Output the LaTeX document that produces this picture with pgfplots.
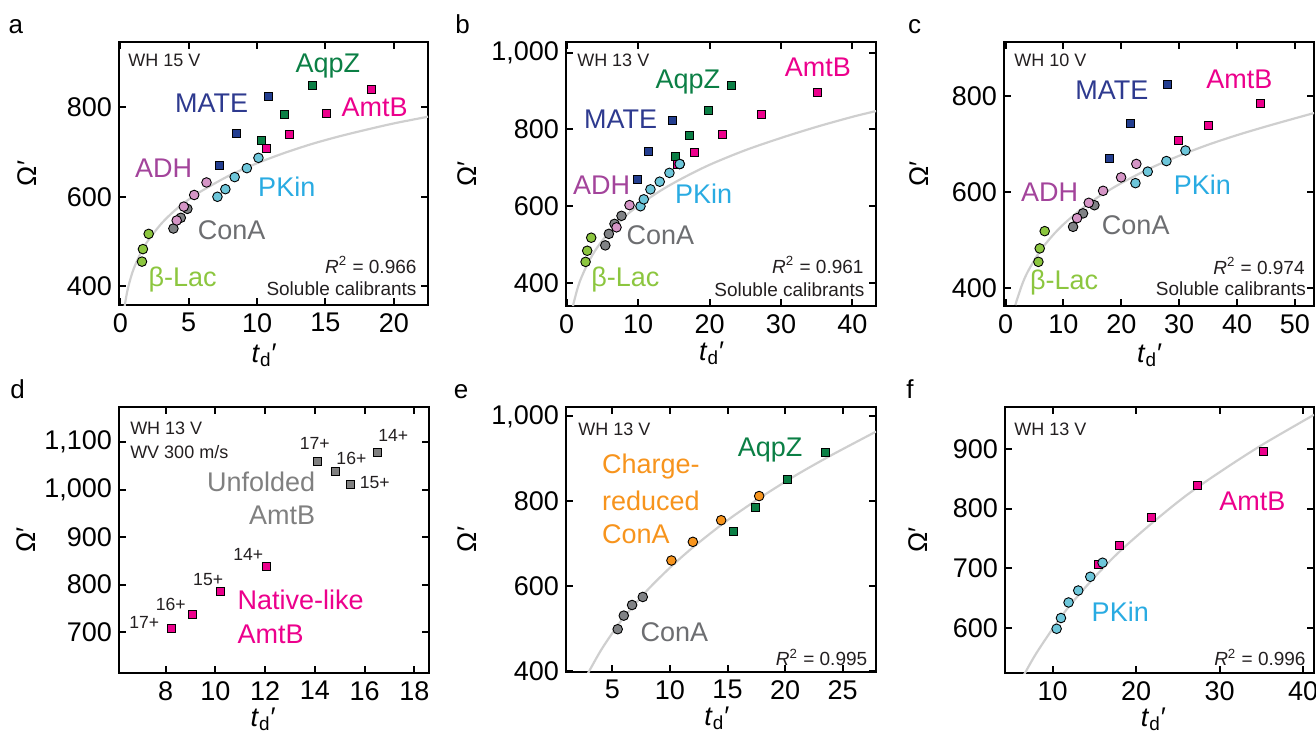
\documentclass[border=0pt]{standalone}
\usepackage{fontspec}
\setmainfont{Liberation Sans}
\usepackage{pgfplots}
\pgfplotsset{compat=1.18}

\definecolor{cLac}{HTML}{8CC63F}
\definecolor{cConA}{HTML}{808285}
\definecolor{cConAT}{HTML}{6D6E71}
\definecolor{cADH}{HTML}{D595C6}
\definecolor{cADHT}{HTML}{A3449B}
\definecolor{cPKin}{HTML}{6DC6DA}
\definecolor{cPKinT}{HTML}{29ABE2}
\definecolor{cMATE}{HTML}{233E90}
\definecolor{cMATET}{HTML}{2E3A8F}
\definecolor{cAqpZ}{HTML}{0B7F45}
\definecolor{cAmtB}{HTML}{EC008C}
\definecolor{cOrange}{HTML}{F7941D}
\definecolor{cCurve}{HTML}{CFCFCF}
\definecolor{cText}{HTML}{231F20}
\definecolor{cUnf}{HTML}{808080}

\newcommand{\tickfont}{\fontsize{13.5}{16}\selectfont}
\newcommand{\lblfont}{\fontsize{13.5}{16}\selectfont}
\newcommand{\whfont}{\fontsize{9}{12}\selectfont}
\newcommand{\rfont}{\fontsize{9.5}{11}\selectfont}
\newcommand{\chfont}{\fontsize{8.8}{10}\selectfont}
\newcommand{\letfont}{\fontsize{13}{15}\selectfont}

\pgfplotsset{
  panel/.style={
    scale only axis, anchor=south west,
    axis line style={line width=1.3pt},
    every tick/.style={black, line width=1pt},
    major tick length=3.5pt,
    tick align=inside,
    tick label style={font=\tickfont},
    xticklabel style={yshift=-2pt, inner sep=2pt},
    /pgf/number format/1000 sep={,},
    /pgf/number format/assume math mode=true,
    label style={font=\lblfont},
    xlabel={\textit{t}\textsubscript{d}′},
    ylabel={Ω′},
    xlabel style={anchor=center, inner sep=0pt},
    ylabel style={anchor=center, inner sep=0pt},
  },
  fit/.style={smooth, no marks, line width=1.1pt, color=cCurve},
  cm/.style={only marks, mark=*, mark size=2.4pt, mark options={draw=black, line width=0.45pt, fill=#1}},
  sm/.style={only marks, mark=square*, mark size=2.0pt, mark options={draw=black, line width=0.45pt, fill=#1}},
}

\begin{document}
\begin{tikzpicture}
\useasboundingbox (0,0) rectangle (658pt,-367.5pt);

\node[anchor=base west, font=\letfont, inner sep=0] at (4.15pt,-16.75pt) {a};
\node[anchor=base west, font=\letfont, inner sep=0] at (227.5pt,-16.65pt) {b};
\node[anchor=base west, font=\letfont, inner sep=0] at (453.8pt,-16.65pt) {c};
\node[anchor=base west, font=\letfont, inner sep=0] at (5pt,-199.15pt) {d};
\node[anchor=base west, font=\letfont, inner sep=0] at (226.7pt,-199.15pt) {e};
\node[anchor=base west, font=\letfont, inner sep=0] at (453pt,-199.15pt) {f};

%% ---------------- panel a
\begin{axis}[panel, at={(59.5pt,-152.5pt)}, width=154.5pt, height=131.5pt,
  xmin=-0.1, xmax=22.5, ymin=358, ymax=946,
  xtick={0,5,10,15,20}, ytick={400,600,800},
  ylabel style={at={(axis description cs:-0.298,0.5)}},
  xlabel style={at={(axis description cs:0.47,-0.19)}}]
\addplot[fit] coordinates {(0.31,355) (0.5,388) (0.75,418) (1,441) (1.5,475) (2,501) (3,540) (4,570) (5,594) (6,614) (8,648) (10,675) (12,698) (14,718) (16,735) (18,750) (20,764) (22.5,779)};
\addplot[cm=cLac] coordinates {(1.58,455) (1.65,483) (2.07,517)};
\addplot[cm=cConA] coordinates {(3.88,529) (4.42,553) (4.9,573)};
\addplot[cm=cADH] coordinates {(4.12,547) (4.64,578) (5.4,604) (6.3,632)};
\addplot[cm=cPKin] coordinates {(7.1,600) (7.68,617) (8.36,644) (9.25,664) (10.1,687)};
\addplot[sm=cMATE] coordinates {(7.26,670) (8.49,742) (10.83,824)};
\addplot[sm=cAqpZ] coordinates {(10.34,727) (12.02,784) (14.05,850)};
\addplot[sm=cAmtB] coordinates {(10.68,707) (12.38,739) (15.07,786) (18.38,839)};
\node[font=\lblfont, text=cAqpZ] at (axis cs:15.17,893) {AqpZ};
\node[font=\lblfont, text=cMATET] at (axis cs:6.68,810) {MATE};
\node[font=\lblfont, text=cAmtB] at (axis cs:18.6,801) {AmtB};
\node[font=\lblfont, text=cADHT] at (axis cs:3.17,664) {ADH};
\node[font=\lblfont, text=cPKinT] at (axis cs:12.17,622) {PKin};
\node[font=\lblfont, text=cConAT] at (axis cs:8.14,526) {ConA};
\node[font=\lblfont, text=cLac] at (axis cs:4.56,414) {β-Lac};
\node[anchor=north west, font=\whfont, inner sep=0, text=cText] at (rel axis cs:0.029,0.954) {WH 15 V};
\node[anchor=east, font=\rfont, inner sep=0, text=cText] at (rel axis cs:0.964,0.152) {\textit{R}\textsuperscript{2} = 0.966};
\node[anchor=east, font=\rfont, inner sep=0, text=cText] at (rel axis cs:0.964,0.061) {Soluble calibrants};
\end{axis}

%% ---------------- panel b
\begin{axis}[panel, at={(283pt,-153pt)}, width=155pt, height=132pt,
  xmin=-0.1, xmax=43.3, ymin=340, ymax=1028,
  xtick={0,10,20,30,40}, ytick={400,600,800,1000},
  ylabel style={at={(axis description cs:-0.32,0.5)}},
  xlabel style={at={(axis description cs:0.47,-0.178)}}]
\addplot[fit] coordinates {(0.88,340) (1,350) (1.5,385) (2,412) (3,453) (4,485) (5,511) (6,533) (8,571) (10,601) (13,639) (16,671) (20,708) (25,746) (30,778) (35,807) (40,833) (43.3,848)};
\addplot[cm=cLac] coordinates {(2.64,455) (2.87,484) (3.43,518)};
\addplot[cm=cConA] coordinates {(5.4,498) (5.9,528) (6.69,554) (7.67,575)};
\addplot[cm=cADH] coordinates {(6.97,545) (8.79,603)};
\addplot[cm=cPKin] coordinates {(10.33,600) (10.79,618) (11.72,644) (13.02,664) (14.38,687) (15.82,710)};
\addplot[sm=cMATE] coordinates {(9.95,671) (11.5,742) (14.8,824)};
\addplot[sm=cAqpZ] coordinates {(15.26,729) (17.12,785) (19.87,850) (23.13,915)};
\addplot[sm=cAmtB] coordinates {(15.45,710) (17.87,739) (21.78,787) (27.33,839) (35.16,896)};
\addplot[cm=cPKin] coordinates {(15.82,710)};
\node[font=\lblfont, text=cAqpZ] at (axis cs:16.95,924) {AqpZ};
\node[font=\lblfont, text=cMATET] at (axis cs:7.53,826) {MATE};
\node[font=\lblfont, text=cAmtB] at (axis cs:35.15,963) {AmtB};
\node[font=\lblfont, text=cADHT] at (axis cs:4.88,655) {ADH};
\node[font=\lblfont, text=cPKinT] at (axis cs:19.17,632) {PKin};
\node[font=\lblfont, text=cConAT] at (axis cs:13.12,525) {ConA};
\node[font=\lblfont, text=cLac] at (axis cs:8.22,408) {β-Lac};
\node[anchor=north west, font=\whfont, inner sep=0, text=cText] at (rel axis cs:0.035,0.958) {WH 13 V};
\node[anchor=east, font=\rfont, inner sep=0, text=cText] at (rel axis cs:0.961,0.155) {\textit{R}\textsuperscript{2} = 0.961};
\node[anchor=east, font=\rfont, inner sep=0, text=cText] at (rel axis cs:0.964,0.063) {Soluble calibrants};
\end{axis}

%% ---------------- panel c
\begin{axis}[panel, at={(502pt,-153pt)}, width=155pt, height=132pt,
  xmin=-0.26, xmax=53.3, ymin=362, ymax=912,
  xtick={0,10,20,30,40,50}, ytick={400,600,800},
  ylabel style={at={(axis description cs:-0.274,0.5)}},
  xlabel style={at={(axis description cs:0.47,-0.186)}}]
\addplot[fit] coordinates {(1.71,364) (2,376) (3,411) (4,437) (6,477) (8,507) (10,532) (13,563) (16,589) (20,618) (25,649) (30,675) (35,698) (40,718) (45,736) (50,753) (53.3,764)};
\addplot[cm=cLac] coordinates {(5.68,454) (5.91,482) (6.77,518)};
\addplot[cm=cConA] coordinates {(11.67,527) (13.39,555) (15.36,572)};
\addplot[cm=cADH] coordinates {(12.36,545) (14.38,577) (16.86,602) (19.97,630) (22.6,658)};
\addplot[cm=cPKin] coordinates {(22.45,618) (24.57,642) (27.8,664) (31.09,686)};
\addplot[sm=cMATE] coordinates {(18.0,670) (21.52,742) (28.04,823)};
\addplot[sm=cAmtB] coordinates {(29.88,707) (35.0,739) (44.0,785)};
\node[font=\lblfont, text=cMATET] at (axis cs:18.36,811) {MATE};
\node[font=\lblfont, text=cAmtB] at (axis cs:40.4,835) {AmtB};
\node[font=\lblfont, text=cADHT] at (axis cs:7.64,599) {ADH};
\node[font=\lblfont, text=cPKinT] at (axis cs:34.0,614) {PKin};
\node[font=\lblfont, text=cConAT] at (axis cs:22.5,531) {ConA};
\node[font=\lblfont, text=cLac] at (axis cs:10.12,410) {β-Lac};
\node[anchor=north west, font=\whfont, inner sep=0, text=cText] at (rel axis cs:0.032,0.955) {WH 10 V};
\node[anchor=east, font=\rfont, inner sep=0, text=cText] at (rel axis cs:0.971,0.152) {\textit{R}\textsuperscript{2} = 0.974};
\node[anchor=east, font=\rfont, inner sep=0, text=cText] at (rel axis cs:0.975,0.064) {Soluble calibrants};
\end{axis}

%% ---------------- panel d
\begin{axis}[panel, at={(59.5pt,-336.5pt)}, width=155pt, height=133pt,
  xmin=6.125, xmax=18.59, ymin=614, ymax=1174,
  xtick={8,10,12,14,16,18}, ytick={700,800,900,1000,1100},
  ylabel style={at={(axis description cs:-0.3,0.5)}},
  xlabel style={at={(axis description cs:0.465,-0.175)}}]
\addplot[sm=cAmtB] coordinates {(8.23,707) (9.06,738) (10.22,786) (12.07,838)};
\addplot[sm=cUnf] coordinates {(14.11,1060) (14.84,1038) (15.45,1010) (16.53,1079)};
\node[font=\chfont, text=cText] at (axis cs:7.14,721) {17+};
\node[font=\chfont, text=cText] at (axis cs:8.21,759) {16+};
\node[font=\chfont, text=cText] at (axis cs:9.71,810) {15+};
\node[font=\chfont, text=cText] at (axis cs:11.32,863) {14+};
\node[font=\chfont, text=cText] at (axis cs:14.0,1098) {17+};
\node[font=\chfont, text=cText] at (axis cs:15.47,1066) {16+};
\node[font=\chfont, text=cText] at (axis cs:16.41,1016) {15+};
\node[font=\chfont, text=cText] at (axis cs:17.15,1114) {14+};
\node[anchor=east, font=\lblfont, text=cUnf, inner sep=0] at (axis cs:14.03,1017) {Unfolded};
\node[anchor=east, font=\lblfont, text=cUnf, inner sep=0] at (axis cs:14.03,947) {AmtB};
\node[anchor=west, font=\lblfont, text=cAmtB, inner sep=0] at (axis cs:10.88,767) {Native-like};
\node[anchor=west, font=\lblfont, text=cAmtB, inner sep=0] at (axis cs:10.88,696) {AmtB};
\node[anchor=north west, font=\whfont, inner sep=0, text=cText, align=left] at (rel axis cs:0.035,0.946) {WH 13 V\\WV 300 m/s};
\end{axis}

%% ---------------- panel e
\begin{axis}[panel, at={(283pt,-336pt)}, width=155pt, height=132.5pt,
  xmin=0.97, xmax=27.9, ymin=397, ymax=1022,
  xtick={5,10,15,20,25}, ytick={400,600,800,1000},
  ylabel style={at={(axis description cs:-0.32,0.5)}},
  xlabel style={at={(axis description cs:0.487,-0.175)}}]
\addplot[fit] coordinates {(2.9,394) (3,400) (4,448) (5,489) (6,526) (8,589) (10,643) (12,691) (15,755) (18,811) (21,862) (24,908) (27.9,964)};
\addplot[cm=cConA] coordinates {(5.46,498) (5.99,530) (6.71,555) (7.64,574)};
\addplot[cm=cOrange] coordinates {(10.13,660) (11.99,704) (14.45,755) (17.75,812)};
\addplot[sm=cAqpZ] coordinates {(15.52,728) (17.46,784) (20.22,850) (23.49,915)};
\node[font=\lblfont, text=cAqpZ] at (axis cs:18.71,920) {AqpZ};
\node[anchor=west, font=\lblfont, text=cOrange, inner sep=0] at (axis cs:4.07,881) {Charge-};
\node[anchor=west, font=\lblfont, text=cOrange, inner sep=0] at (axis cs:4.07,800) {reduced};
\node[anchor=west, font=\lblfont, text=cOrange, inner sep=0] at (axis cs:4.07,721) {ConA};
\node[font=\lblfont, text=cConAT] at (axis cs:10.39,492) {ConA};
\node[anchor=north west, font=\whfont, inner sep=0, text=cText] at (rel axis cs:0.039,0.94) {WH 13 V};
\node[anchor=east, font=\rfont, inner sep=0, text=cText] at (rel axis cs:0.973,0.055) {\textit{R}\textsuperscript{2} = 0.995};
\end{axis}

%% ---------------- panel f
\begin{axis}[panel, at={(502.5pt,-336.5pt)}, width=154.5pt, height=133pt,
  xmin=4.3, xmax=41.3, ymin=525, ymax=970,
  xtick={10,20,30,40}, ytick={600,700,800,900},
  ylabel style={at={(axis description cs:-0.28,0.5)}},
  xlabel style={at={(axis description cs:0.48,-0.175)}}]
\addplot[fit] coordinates {(6.5,520) (6.73,526) (8,557) (10,599) (12,637) (15,685) (18,728) (22,777) (26,822) (30,861) (35,906) (41.3,957)};
\addplot[sm=cAmtB] coordinates {(15.5,706) (18.02,738) (21.89,785) (27.35,838.5) (35.2,895)};
\addplot[cm=cPKin] coordinates {(10.48,599) (11.0,617) (11.91,643) (13.07,663) (14.51,686) (15.98,709.5)};
\node[font=\lblfont, text=cAmtB] at (axis cs:33.93,812) {AmtB};
\node[font=\lblfont, text=cPKinT] at (axis cs:18.1,627) {PKin};
\node[anchor=north west, font=\whfont, inner sep=0, text=cText] at (rel axis cs:0.029,0.94) {WH 13 V};
\node[anchor=east, font=\rfont, inner sep=0, text=cText] at (rel axis cs:0.974,0.059) {\textit{R}\textsuperscript{2} = 0.996};
\end{axis}
\end{tikzpicture}
\end{document}
